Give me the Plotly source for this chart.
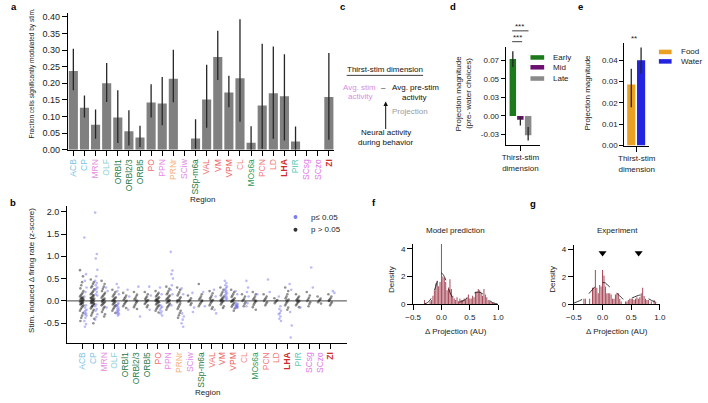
import plotly.graph_objects as go

W, H = 708, 403
FONT = "Liberation Sans, Arial, sans-serif"


def px(x):
    return x / W


def py(y):
    return 1 - y / H


# ---------------- data ----------------
regions = ["ACB", "CP", "MRN", "OLF", "ORBl1", "ORBl2/3", "ORBl5", "PO", "PPN", "PRNr", "SCiw",
           "SSp-m6a", "VAL", "VM", "VPM", "CL", "MOs6a", "PCN", "LD", "LHA", "PIR", "SCsg", "SCzo", "ZI"]
region_colors = ["#7cc3e6", "#7cc3e6", "#e58fe0", "#8ccfd6", "#1e7a4a", "#1e7a4a", "#1e7a4a", "#f06a6a",
                 "#e88ae8", "#f5b27e", "#e08ae8", "#1e7a4a", "#ef6b6b", "#ef5b5b", "#ef5b5b", "#f28a8a",
                 "#2a9a5a", "#f07a7a", "#f07a7a", "#d02a2a", "#5cc8b8", "#e07ae8", "#e07ae8", "#d0302a"]
region_bold = ["LHA", "ZI"]

# panel a: fraction of cells significantly modulated (mean, CI high, CI low)
frac_mod = [0.237, 0.126, 0.075, 0.200, 0.097, 0.056, 0.037, 0.142, 0.139, 0.214, 0.0, 0.034,
            0.151, 0.279, 0.172, 0.215, 0.021, 0.133, 0.170, 0.161, 0.025, 0.0, 0.0, 0.159]
frac_hi = [0.304, 0.163, 0.121, 0.261, 0.179, 0.119, 0.072, 0.197, 0.219, 0.301, 0.0, 0.092,
           0.256, 0.358, 0.223, 0.393, 0.071, 0.319, 0.311, 0.287, 0.070, 0.0, 0.0, 0.291]
frac_lo = [0.179, 0.097, 0.033, 0.144, 0.020, 0.013, 0.008, 0.097, 0.074, 0.143, 0.0, 0.003,
           0.066, 0.210, 0.128, 0.084, 0.0, 0.003, 0.033, 0.028, 0.0, 0.0, 0.0, 0.030]

# panel b: stim-induced change in firing rate per neuron (z-score)
gray_points = [
    [0.69, 0.55, 0.42, 0.35, 0.28, 0.22, 0.18, 0.15, 0.12, 0.1, 0.08, 0.06, 0.05, 0.03, 0.02, 0.01, 0.0, -0.01,
     -0.02, -0.03, -0.05, -0.06, -0.08, -0.1, -0.12, -0.15, -0.18, -0.22, -0.27, -0.33, -0.38, -0.45, 0.04, -0.04, 0.07, -0.07],
    [0.48, 0.42, 0.38, 0.33, 0.3, 0.26, 0.22, 0.2, 0.17, 0.15, 0.12, 0.1, 0.08, 0.06, 0.05, 0.03, 0.02, 0.01, 0.0,
     -0.01, -0.02, -0.04, -0.05, -0.07, -0.09, -0.11, -0.14, -0.17, -0.2, -0.24, -0.28, -0.33, -0.4, -0.5, 0.04, -0.03,
     0.07, -0.06, 0.13, -0.12],
    [0.45, 0.38, 0.32, 0.27, 0.22, 0.18, 0.15, 0.12, 0.1, 0.07, 0.05, 0.03, 0.01, 0.0, -0.02, -0.04, -0.06, -0.08,
     -0.1, -0.13, -0.16, -0.2, -0.25, -0.3, -0.35, 0.02, -0.03],
    [0.25, 0.2, 0.16, 0.13, 0.1, 0.08, 0.06, 0.04, 0.02, 0.0, -0.02, -0.04, -0.06, -0.08, -0.1, -0.12, -0.15, -0.18,
     -0.22, -0.27, 0.01, -0.01],
    [0.18, 0.12, 0.08, 0.05, 0.02, 0.0, -0.02, -0.05, -0.08, -0.12, -0.16],
    [0.2, 0.14, 0.1, 0.06, 0.03, 0.0, -0.03, -0.06, -0.1, -0.14, -0.18, 0.01],
    [0.2, 0.15, 0.1, 0.07, 0.04, 0.02, 0.0, -0.02, -0.04, -0.07, -0.1, -0.14, 0.01],
    [0.22, 0.18, 0.15, 0.12, 0.1, 0.08, 0.06, 0.04, 0.02, 0.0, -0.02, -0.04, -0.06, -0.08, -0.1, -0.12, -0.15, -0.18,
     -0.22, -0.26, 0.01, -0.01, 0.03, -0.03],
    [0.32, 0.27, 0.22, 0.18, 0.15, 0.12, 0.1, 0.07, 0.05, 0.03, 0.01, 0.0, -0.02, -0.04, -0.06, -0.09, -0.12, -0.15,
     -0.2, 0.02, -0.01],
    [0.3, 0.25, 0.2, 0.16, 0.12, 0.08, 0.05, 0.02, 0.0, -0.03, -0.06, -0.1, -0.14, -0.18, -0.22, -0.27, -0.32, -0.38,
     0.01, -0.01],
    [0.12, 0.06, 0.02, 0.0, -0.02, -0.05, -0.09],
    [0.38, 0.15, 0.1, 0.06, 0.03, 0.0, -0.02, -0.05, -0.08, -0.12, 0.01],
    [0.22, 0.17, 0.12, 0.08, 0.05, 0.02, 0.0, -0.03, -0.06, -0.1, -0.14, -0.18, 0.01],
    [0.3, 0.25, 0.2, 0.16, 0.12, 0.1, 0.07, 0.05, 0.03, 0.01, 0.0, -0.02, -0.05, -0.08, -0.12, -0.16, 0.02, -0.01],
    [0.25, 0.2, 0.16, 0.12, 0.09, 0.06, 0.03, 0.01, 0.0, -0.02, -0.04, -0.07, -0.1, -0.13, -0.17, -0.22, 0.02, -0.01],
    [0.15, 0.1, 0.05, 0.02, 0.0, -0.03, -0.07, -0.12],
    [0.2, 0.15, 0.1, 0.06, 0.03, 0.0, -0.02, -0.05, -0.09, -0.14, -0.2, 0.01],
    [0.15, 0.1, 0.06, 0.03, 0.0, -0.03, -0.06, -0.1],
    [0.06, 0.02, 0.0, -0.02, -0.05],
    [0.3, 0.22, 0.15, 0.1, 0.06, 0.03, 0.0, -0.03, -0.06, -0.1, -0.15, -0.2, 0.01],
    [0.15, 0.1, 0.07, 0.04, 0.02, 0.0, -0.02, -0.04, -0.07, -0.1, -0.14, 0.01, -0.01],
    [0.2, 0.12, 0.07, 0.03, 0.0, -0.03, -0.07, -0.12],
    [0.1, 0.05, 0.02, 0.0, -0.03, -0.06],
    [0.15, 0.1, 0.06, 0.03, 0.0, -0.03, -0.06, -0.1, 0.01],
]
sig_points = [
    [1.42, 0.6, 0.45, 0.3, 0.2, 0.1, -0.1, -0.15, -0.2, -0.22, -0.25, -0.28, -0.3, -0.33, -0.38, -0.45, -0.52, -0.58],
    [1.98, 1.05, 0.95, 0.7, 0.55, 0.45, 0.4, 0.35, 0.3, 0.27, 0.25, 0.2, 0.15, 0.12, -0.08, -0.12, -0.18, -0.22,
     -0.3, -0.36, -0.42],
    [0.3, 0.22, -0.15],
    [0.38, 0.3, 0.22, 0.15, -0.08, -0.12, -0.15, -0.18, -0.2, -0.22, -0.24, -0.26, -0.28, -0.3, -0.33, -0.1, -0.05],
    [0.25, 0.1, -0.2],
    [0.32, -0.35],
    [0.32, 0.12, -0.2],
    [0.3, 0.15, -0.1, -0.13, -0.16, -0.2, -0.24, -0.28, -0.33],
    [1.1, 0.68, 0.6, 0.5, 0.35, 0.25, 0.15, -0.1],
    [0.28, 0.15, -0.28, -0.35, -0.42, -0.5, -0.58],
    [0.18, -0.15, -0.25],
    [0.2, -0.12],
    [0.25, 0.1, -0.2, -0.28],
    [0.45, 0.4, 0.35, 0.32, 0.28, 0.25, 0.22, 0.2, 0.17, 0.15, 0.12, 0.1, 0.07, 0.05, 0.02],
    [0.22, 0.15, -0.05, -0.07, -0.09, -0.1, -0.11, -0.12, -0.13, -0.14, -0.15, -0.16],
    [0.45, 0.3, 0.2, 0.1, -0.05, -0.12],
    [0.15],
    [0.48, 0.2],
    [0.1, -0.12, -0.18, -0.22, -0.27, -0.3, -0.35, -0.4, -0.45],
    [0.38, 0.25, -0.25, -0.55, -0.82],
    [-0.15],
    [0.75, 0.3],
    [],
    [0.22, 0.18],
]

# panel d: projection magnitude (pre- water choices)
d_labels = ["Early", "Mid", "Late"]
d_values = [0.0765, -0.005, -0.026]
d_hi = [0.087, -0.001, -0.015]
d_lo = [0.066, -0.013, -0.033]
d_colors = ["#1c7a1c", "#6b1070", "#8a8a8a"]

# panel e: projection magnitude, food vs water
e_labels = ["Food", "Water"]
e_values = [0.0286, 0.040]
e_hi = [0.036, 0.046]
e_lo = [0.018, 0.0337]
e_colors = ["#e8a025", "#2424e0"]

# panels f, g: histograms of delta projection (bin width 0.025)
hist_bin_width = 0.025
f_first_bin = -0.3
f_density = [0.3, 0, 0, 0, 0.2, 0.3, 0.6, 1.0, 1.5, 1.7, 1.3, 1.6, 4.4, 2.0, 1.9, 1.6, 1.0, 1.2, 1.8, 1.1,
             0.6, 0.4, 0.3, 0.5, 0.2, 0.4, 0.3, 0.3, 0.4, 0.3, 0.5, 0.7, 0.4, 0.4, 0.6, 0.5, 0.9, 0.9, 1.1, 1.0,
             0.8, 0.6, 1.1, 0.7, 0.5, 0.3, 0.2, 0.15, 0.1, 0.1]
f_kde_x = [-0.3, -0.25, -0.2, -0.15, -0.1, -0.05, 0.0, 0.05, 0.1, 0.15, 0.2, 0.25, 0.3, 0.35, 0.4, 0.45,
           0.5, 0.55, 0.6, 0.65, 0.7, 0.75, 0.8, 0.85, 0.9, 0.95, 1.0]
f_kde_y = [0.02, 0.1, 0.3, 0.7, 1.3, 1.9, 2.25, 2.0, 1.45, 0.85, 0.45, 0.22, 0.15, 0.17, 0.28, 0.42,
           0.58, 0.74, 0.84, 0.87, 0.82, 0.66, 0.45, 0.26, 0.12, 0.05, 0.02]

g_first_bin = -0.35
g_density = [0.0, 0.4, 0.4, 0.0, 0.0, 0.4, 0.0, 1.2, 1.2, 2.5, 1.2, 0.8, 1.4, 1.3, 2.5, 2.1, 1.3, 0.8, 0.8, 0.8,
             0.7, 0.4, 0.4, 0.7, 0.8, 0.8, 0.4, 0.2, 0.0, 0.0, 0.2, 0.2, 0.3, 0.4, 0.4, 0.4, 0.3, 0.4, 0.5, 0.4,
             0.5, 0.8, 1.2, 0.6, 0.4, 0.3, 0.3, 0.0, 0.2, 0.0, 0.3, 0.1]
g_kde_x = [-0.5, -0.4, -0.3, -0.2, -0.1, 0.0, 0.05, 0.1, 0.2, 0.3, 0.35, 0.4, 0.45, 0.5, 0.6, 0.65, 0.7,
           0.8, 0.9, 1.0]
g_kde_y = [0.08, 0.25, 0.5, 0.95, 1.4, 1.58, 1.55, 1.35, 1.0, 0.6, 0.4, 0.32, 0.33, 0.42, 0.6, 0.66, 0.62,
           0.4, 0.18, 0.05]
g_peak_x = [0.0, 0.63]
g_peak_y = [3.75, 3.75]

# ---------------- figure ----------------
fig = go.Figure()
n = len(regions)

# a
fig.add_trace(go.Bar(
    x=list(range(n)), y=frac_mod, width=0.82, marker=dict(color="#808080", line=dict(width=0)),
    error_y=dict(type="data", symmetric=False,
                 array=[h - v for h, v in zip(frac_hi, frac_mod)],
                 arrayminus=[v - l for v, l in zip(frac_mod, frac_lo)],
                 color="#262626", thickness=1.3, width=0),
    xaxis="x", yaxis="y", showlegend=False, hoverinfo="skip"))

# b
gx, gy, bx, by = [], [], [], []
for i, vals in enumerate(gray_points):
    for k, v in enumerate(vals):
        gx.append(i - 0.05 + (((k * 7) % 9) - 4) * 0.04)
        gy.append(v)
for i, vals in enumerate(sig_points):
    for k, v in enumerate(vals):
        bx.append(i + 0.3 + (((k * 3) % 5) - 2) * 0.05)
        by.append(v)
fig.add_trace(go.Scatter(x=gx, y=gy, mode="markers", xaxis="x2", yaxis="y2", showlegend=False,
                         marker=dict(size=2.6, color="rgba(35,35,35,0.5)", line=dict(width=0))))
fig.add_trace(go.Scatter(x=bx, y=by, mode="markers", xaxis="x2", yaxis="y2", showlegend=False,
                         marker=dict(size=2.6, color="rgba(105,105,240,0.45)", line=dict(width=0))))

# d
d_width = 0.374
d_centers = [-0.436, 0.0, 0.45]
for lab, v, hi, lo, c, cpos in zip(d_labels, d_values, d_hi, d_lo, d_colors, d_centers):
    fig.add_trace(go.Bar(
        x=[0], y=[v], width=d_width, offset=cpos - d_width / 2, marker=dict(color=c, line=dict(width=0)),
        error_y=dict(type="data", symmetric=False, array=[hi - v], arrayminus=[v - lo],
                     color="#262626", thickness=1.3, width=0),
        xaxis="x3", yaxis="y3", showlegend=False, name=lab))

# e
e_width = 0.394
e_centers = [-0.261, 0.214]
for lab, v, hi, lo, c, cpos in zip(e_labels, e_values, e_hi, e_lo, e_colors, e_centers):
    fig.add_trace(go.Bar(
        x=[0], y=[v], width=e_width, offset=cpos - e_width / 2, marker=dict(color=c, line=dict(width=0)),
        error_y=dict(type="data", symmetric=False, array=[hi - v], arrayminus=[v - lo],
                     color="#262626", thickness=1.3, width=0),
        xaxis="x4", yaxis="y4", showlegend=False, name=lab))

# f
hist_color = "rgba(150,40,58,0.85)"
f_centers = [f_first_bin + i * hist_bin_width for i in range(len(f_density))]
fig.add_trace(go.Bar(x=f_centers, y=f_density, width=hist_bin_width * 0.7,
                     marker=dict(color=hist_color, line=dict(width=0)),
                     xaxis="x5", yaxis="y5", showlegend=False))
fig.add_trace(go.Scatter(x=f_kde_x, y=f_kde_y, mode="lines", line=dict(color="#222", width=0.9, dash="dash", shape="spline"),
                         xaxis="x5", yaxis="y5", showlegend=False))

# g
g_centers = [g_first_bin + i * hist_bin_width for i in range(len(g_density))]
fig.add_trace(go.Bar(x=g_centers, y=g_density, width=hist_bin_width * 0.7,
                     marker=dict(color=hist_color, line=dict(width=0)),
                     xaxis="x6", yaxis="y6", showlegend=False))
fig.add_trace(go.Scatter(x=g_kde_x, y=g_kde_y, mode="lines", line=dict(color="#222", width=0.9, dash="dash", shape="spline"),
                         xaxis="x6", yaxis="y6", showlegend=False))
fig.add_trace(go.Scatter(x=g_peak_x, y=g_peak_y, mode="markers", marker=dict(symbol="triangle-down", size=7, color="black"),
                         xaxis="x6", yaxis="y6", showlegend=False))

# ---------------- axes ----------------
def ax(**kw):
    base = dict(showline=True, linecolor="black", linewidth=1, ticks="outside", ticklen=5, tickwidth=1,
                tickcolor="black", showgrid=False, zeroline=False, fixedrange=True,
                tickfont=dict(size=8, color="#222", family=FONT))
    base.update(kw)
    return base


def colored(name, col):
    s = f"<span style='color:{col}'>{name}</span>"
    if name in region_bold:
        s = f"<b>{s}</b>"
    return s


cat_text = [colored(r, c) for r, c in zip(regions, region_colors)]
big_tick = dict(size=9, color="#222", family=FONT)
cat_tick = dict(size=8.5, color="#222", family=FONT)

fig.update_layout(
    xaxis=ax(domain=[px(61), px(333)], range=[-0.5, 23.5], tickvals=list(range(n)), ticktext=cat_text,
             tickangle=-90, anchor="y", tickfont=cat_tick),
    yaxis=ax(domain=[py(151), py(12)], range=[0, 0.412], tickvals=[0, 0.05, 0.1, 0.15, 0.2, 0.25, 0.3, 0.35, 0.4],
             ticktext=["0.00", "0.05", "0.10", "0.15", "0.20", "0.25", "0.30", "0.35", "0.40"], anchor="x",
             tickfont=big_tick),
    xaxis2=ax(domain=[px(60.3), px(345.7)], range=[-1.4, 24.5], tickvals=list(range(n)), ticktext=cat_text,
              tickangle=-90, anchor="y2", tickfont=cat_tick),
    yaxis2=ax(domain=[py(347), py(208)], range=[-0.94, 2.13], tickvals=[-0.5, 0, 0.5, 1.0, 1.5, 2.0],
              ticktext=["-0.5", "0.0", "0.5", "1.0", "1.5", "2.0"], anchor="x2", tickfont=big_tick),
    xaxis3=ax(domain=[px(507.7), px(543)], range=[-0.85, 1.15], tickvals=[0], ticktext=["Thirst-stim<br>dimension"],
              anchor="y3"),
    yaxis3=ax(domain=[py(146), py(47)], range=[-0.0389, 0.0924], tickvals=[-0.025, 0, 0.025, 0.05, 0.075],
              ticktext=["-0.03", "0.00", "0.03", "0.05", "0.07"], ticklen=4, anchor="x3"),
    xaxis4=ax(domain=[px(628.7), px(654)], range=[-0.6, 0.6], tickvals=[0], ticktext=["Thirst-stim<br>dimension"],
              anchor="y4"),
    yaxis4=ax(domain=[py(146.7), py(42.7)], range=[0, 0.0481], tickvals=[0, 0.01, 0.02, 0.03, 0.04],
              ticktext=["0.00", "0.01", "0.02", "0.03", "0.04"], ticklen=4, anchor="x4"),
    xaxis5=ax(domain=[px(413.3), px(500)], range=[-0.5, 1.0], tickvals=[-0.5, 0, 0.5, 1.0],
              ticktext=["\u22120.5", "0.0", "0.5", "1.0"], anchor="y5"),
    yaxis5=ax(domain=[py(307.7), py(246.7)], range=[0, 4.36], tickvals=[0, 2, 4], anchor="x5"),
    xaxis6=ax(domain=[px(577.3), px(665)], range=[-0.5, 1.0], tickvals=[-0.5, 0, 0.5, 1.0],
              ticktext=["\u22120.5", "0.0", "0.5", "1.0"], anchor="y6"),
    yaxis6=ax(domain=[py(307.7), py(247.3)], range=[0, 4.36], tickvals=[0, 2, 4], anchor="x6"),
)


# ---------------- annotations ----------------
def txt(x, y, s, size=8, color="#222", angle=0, xanchor="center", yanchor="middle"):
    return dict(x=px(x), y=py(y), xref="paper", yref="paper", text=s, showarrow=False,
                font=dict(size=size, color=color, family=FONT), textangle=angle,
                xanchor=xanchor, yanchor=yanchor)


anns = [
    # panel letters
    txt(6, 6, "<b>a</b>", size=9.5, color="black"),
    txt(5, 204.5, "<b>b</b>", size=9.5, color="black"),
    txt(341, 6, "<b>c</b>", size=9.5, color="black"),
    txt(453.7, 6, "<b>d</b>", size=9.5, color="black"),
    txt(583.7, 6, "<b>e</b>", size=9.5, color="black"),
    txt(373.5, 204.3, "<b>f</b>", size=9.5, color="black"),
    txt(535.8, 205.3, "<b>g</b>", size=9.5, color="black"),
    # a
    txt(24, 74, "Fraction cells significantly modulated by stim.", size=6.5, angle=-90),
    txt(198, 202, "Region"),
    # b
    txt(24, 273.5, "Stim. induced \u0394 firing rate (z-score)", size=8, angle=-90),
    txt(204, 397.5, "Region"),
    txt(306.7, 219.3, "p\u2264 0.05", xanchor="left"),
    txt(306.7, 232.3, "p > 0.05", xanchor="left"),
    # c
    txt(384.5, 70, "Thirst-stim dimension", color="#111"),
    txt(358.5, 87.3, "Avg. stim", color="#d98de2"),
    txt(358.7, 97.3, "activity", color="#d98de2"),
    txt(383.3, 87.3, "\u2013", color="#111"),
    txt(416, 87.7, "Avg. pre-stim", color="#111"),
    txt(414.5, 97.7, "activity", color="#111"),
    txt(410.3, 112, "Projection", color="#9a9a9a"),
    txt(385.7, 133.3, "Neural activity", color="#111"),
    txt(385, 144, "during behavior", color="#111"),
    dict(x=px(385.3), y=py(102), xref="paper", yref="paper", ax=0, ay=29, axref="pixel", ayref="pixel",
         text="", showarrow=True, arrowhead=2, arrowsize=0.9, arrowwidth=1, arrowcolor="#111"),
    # d
    txt(460, 94, "Projection magnitude", angle=-90),
    txt(469.5, 94, "(pre- water choices)", angle=-90),
    txt(522, 26, "***", size=8),
    txt(519.3, 37.5, "***", size=8),
    txt(554, 57.3, "Early", xanchor="left"),
    txt(554, 67.3, "Mid", xanchor="left"),
    txt(554, 78.7, "Late", xanchor="left"),
    # e
    txt(591.7, 93, "Projection magnitude", angle=-90),
    txt(638.5, 38, "**", size=8),
    txt(685, 51.7, "Food", xanchor="left"),
    txt(685, 61.3, "Water", xanchor="left"),
    # f
    txt(456.7, 233, "Model prediction"),
    txt(456.7, 335, "\u0394 Projection (AU)"),
    txt(392, 283, "Density", angle=-90),
    # g
    txt(621.7, 233, "Experiment"),
    txt(621.7, 335, "\u0394 Projection (AU)"),
    txt(556, 283, "Density", angle=-90),
]

shapes = [
    # b zero line
    dict(type="line", xref="paper", yref="y2", x0=px(60.3), x1=px(345.7), y0=0, y1=0,
         line=dict(color="#444", width=1), layer="below"),
    # b legend dots
    dict(type="circle", xref="paper", yref="paper", x0=px(291.3), x1=px(295.3), y0=py(221.3), y1=py(217.3),
         fillcolor="#7b7bf0", line=dict(width=0)),
    dict(type="circle", xref="paper", yref="paper", x0=px(291.3), x1=px(295.3), y0=py(234.3), y1=py(230.3),
         fillcolor="#333", line=dict(width=0)),
    # c underline
    dict(type="line", xref="paper", yref="paper", x0=px(345.5), x1=px(423.5), y0=py(75.5), y1=py(75.5),
         line=dict(color="#111", width=0.8)),
    # d significance lines
    dict(type="line", xref="paper", yref="paper", x0=px(514.3), x1=px(531), y0=py(30.3), y1=py(30.3),
         line=dict(color="#111", width=0.8)),
    dict(type="line", xref="paper", yref="paper", x0=px(514.3), x1=px(524.5), y0=py(41.3), y1=py(41.3),
         line=dict(color="#111", width=0.8)),
]
# d legend swatches
for c, yc in zip(d_colors, [57.3, 67.3, 78.7]):
    shapes.append(dict(type="rect", xref="paper", yref="paper", x0=px(533), x1=px(547), y0=py(yc + 2.3),
                       y1=py(yc - 2.3), fillcolor=c, line=dict(width=0)))
# e legend swatches
for c, yc in zip(e_colors, [51.7, 61.3]):
    shapes.append(dict(type="rect", xref="paper", yref="paper", x0=px(664), x1=px(677), y0=py(yc + 2.3),
                       y1=py(yc - 2.3), fillcolor=c, line=dict(width=0)))

fig.update_layout(
    width=W, height=H, autosize=False, margin=dict(l=0, r=0, t=0, b=0),
    paper_bgcolor="white", plot_bgcolor="white", showlegend=False, barmode="overlay",
    font=dict(family=FONT, size=8, color="#222"),
    annotations=anns, shapes=shapes,
)

fig.write_html("out.html", config={"displayModeBar": False, "staticPlot": True},
               post_script="document.body.style.margin='0px';document.body.style.padding='0px';")
